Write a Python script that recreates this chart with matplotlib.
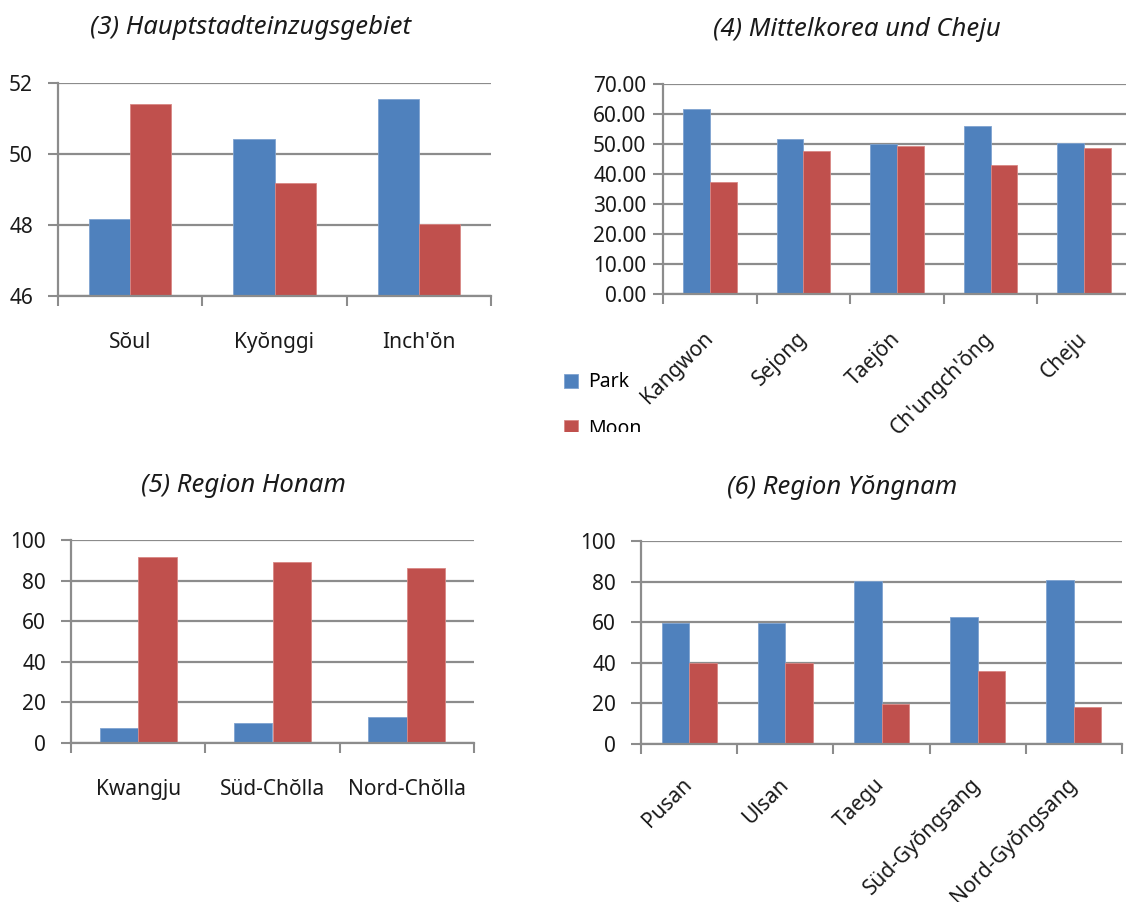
import numpy as np
import matplotlib
matplotlib.use('Agg')
import matplotlib.pyplot as plt
from matplotlib.transforms import Bbox, TransformedBbox

plt.rcParams['font.family'] = ['Noto Sans', 'DejaVu Sans']

# Daten
cat3 = ['Sŏul', 'Kyŏnggi', "Inch'ŏn"]
park3 = [48.17, 50.43, 51.56]
moon3 = [51.41, 49.18, 48.02]

cat4 = ['Kangwon', 'Sejong', 'Taejŏn', "Ch'ungch'ŏng", 'Cheju']
park4 = [61.8, 51.7, 49.9, 56.1, 50.2]
moon4 = [37.3, 47.6, 49.5, 42.9, 48.7]

cat5 = ['Kwangju', 'Süd-Chŏlla', 'Nord-Chŏlla']
park5 = [7.2, 9.7, 12.8]
moon5 = [91.8, 89.2, 86.1]

cat6 = ['Pusan', 'Ulsan', 'Taegu', 'Süd-Gyŏngsang', 'Nord-Gyŏngsang']
park6 = [59.7, 59.7, 80.2, 62.8, 80.7]
moon6 = [39.8, 39.8, 19.5, 36.0, 18.2]

titel = ['(3) Hauptstadteinzugsgebiet', '(4) Mittelkorea und Cheju',
         '(5) Region Honam', '(6) Region Yŏngnam']

BLAU = '#4F81BD'
ROT = '#C0504D'
GRAU = '#8C8C8C'

W, H = 1126, 902
fig = plt.figure(figsize=(W / 100, H / 100), dpi=100)


def px(l, t, r, b):
    # Pixelkanten -> figure-Koordinaten
    return [l / W, 1 - b / H, (r - l) / W, (b - t) / H]


def panel(rect, cats, park, moon, yticks, fmt, rot, lpad, ypad):
    ax = fig.add_axes(rect)
    x = np.arange(len(cats))
    w = 0.2857
    b1 = ax.bar(x - w / 2, park, w, color=BLAU, edgecolor='#7FA3D0', linewidth=0.6, label='Park')
    b2 = ax.bar(x + w / 2, moon, w, color=ROT, edgecolor='#D98784', linewidth=0.6, label='Moon')
    ax.set_xlim(-0.5, len(cats) - 0.5)
    ax.set_ylim(yticks[0], yticks[-1])
    ax.set_yticks(yticks)
    ax.set_yticklabels([fmt % v for v in yticks], fontsize=15, color='#1a1a1a')
    ax.set_xticks(np.arange(len(cats) + 1) - 0.5)
    ax.set_xticklabels([])
    ax.set_xticks(x, minor=True)
    if rot:
        ax.set_xticklabels(cats, minor=True, fontsize=15, rotation=45,
                           ha='right', va='center', rotation_mode='anchor', color='#1a1a1a')
    else:
        ax.set_xticklabels(cats, minor=True, fontsize=15, color='#1a1a1a')
    ax.tick_params(axis='x', which='minor', length=0, pad=lpad)
    ax.tick_params(axis='x', which='major', length=7, width=1.5, color=GRAU)
    ax.tick_params(axis='y', length=7, width=1.5, color=GRAU, pad=ypad)
    ax.grid(axis='y', color=GRAU, linewidth=1.6)
    ax.set_axisbelow(True)
    for s in ['top', 'right']:
        ax.spines[s].set_visible(False)
    for s in ['left', 'bottom']:
        ax.spines[s].set_color(GRAU)
        ax.spines[s].set_linewidth(1.6)
    return ax, b1, b2


ax3, _, _ = panel(px(58, 83, 491, 296), cat3, park3, moon3, [46, 48, 50, 52], '%d', False, 26, 11)
ax4, bp, bm = panel(px(663, 84, 1131, 294), cat4, park4, moon4, list(range(0, 71, 10)), '%.2f', True, 30, 5)
ax5, _, _ = panel(px(71, 540, 474, 743), cat5, park5, moon5, list(range(0, 101, 20)), '%d', False, 26, 11)
ax6, _, _ = panel(px(641, 541, 1122, 744), cat6, park6, moon6, list(range(0, 101, 20)), '%d', True, 27, 11)

# Titel
for (tx, ty), t in zip([(251, 28), (857, 30), (243, 486), (842, 487)], titel):
    fig.text(tx / W, 1 - ty / H, t, ha='center', va='center', fontsize=18.5, style='italic', color='#1a1a1a')

# Legende (unten abgeschnitten wie im Original)
leg = fig.legend(handles=[bp, bm], labels=['Park', 'Moon'], loc='upper left',
                 bbox_to_anchor=(546 / W, 1 - 355 / H), frameon=False, fontsize=14,
                 handlelength=0.75, handleheight=0.75, handletextpad=0.5, labelspacing=1.35)
clip = TransformedBbox(Bbox.from_extents(0, 1 - 432 / H, 1, 1), fig.transFigure)
for a in leg.get_texts() + leg.get_patches():
    a.set_clip_box(clip)
    a.set_clip_on(True)

fig.savefig('out.png', dpi=100)
